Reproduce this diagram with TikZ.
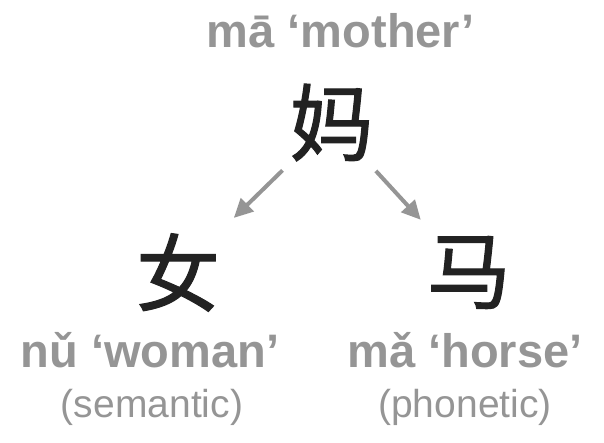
\documentclass[tikz,border=0pt]{standalone}
\usepackage{fontspec}
\setmainfont{Liberation Sans}
\newfontfamily\hanzi[RawFeature={embolden=1.3}]{Noto Sans CJK SC}
\usetikzlibrary{arrows.meta}
\definecolor{labelgray}{HTML}{959595}
\definecolor{glyphblack}{HTML}{222222}
\tikzset{
  glyph/.style={font=\hanzi\fontsize{84}{84}\selectfont, text=glyphblack, inner sep=0pt},
  gloss/.style={font=\bfseries\fontsize{47}{47}\selectfont, text=labelgray, inner sep=0pt, anchor=base},
  role/.style={font=\fontsize{39}{39}\selectfont, text=labelgray, inner sep=0pt, anchor=base},
  part/.style={draw=labelgray, line width=4pt, -{Triangle[length=19pt,width=18pt]}, shorten <=13pt, shorten >=22pt},
}
\begin{document}
\begin{tikzpicture}[x=1pt,y=-1pt]
  \useasboundingbox (0,0) rectangle (604,442);

  % whole character and its reading
  \node[gloss] (mother) at (341,47) {mā ‘mother’};
  \node[glyph] (ma)     at (331.5,122.5) {妈};

  % the two components
  \node[glyph] (nv)     at (178,272.5) {女};   % left part
  \node[glyph] (horse)  at (469,272.5) {马};   % right part

  % readings and roles below the parts
  \node[gloss] (woman)    at (150,367) {nǔ ‘woman’};
  \node[role]  (semantic) at (152,417) {(semantic)};
  \node[gloss] (mahorse)  at (465,367) {mǎ ‘horse’};
  \node[role]  (phonetic) at (465,417) {(phonetic)};

  % arrows from the character to its parts
  \draw[part] (ma) -- (nv);
  \draw[part] (ma) -- (horse);
\end{tikzpicture}
\end{document}
